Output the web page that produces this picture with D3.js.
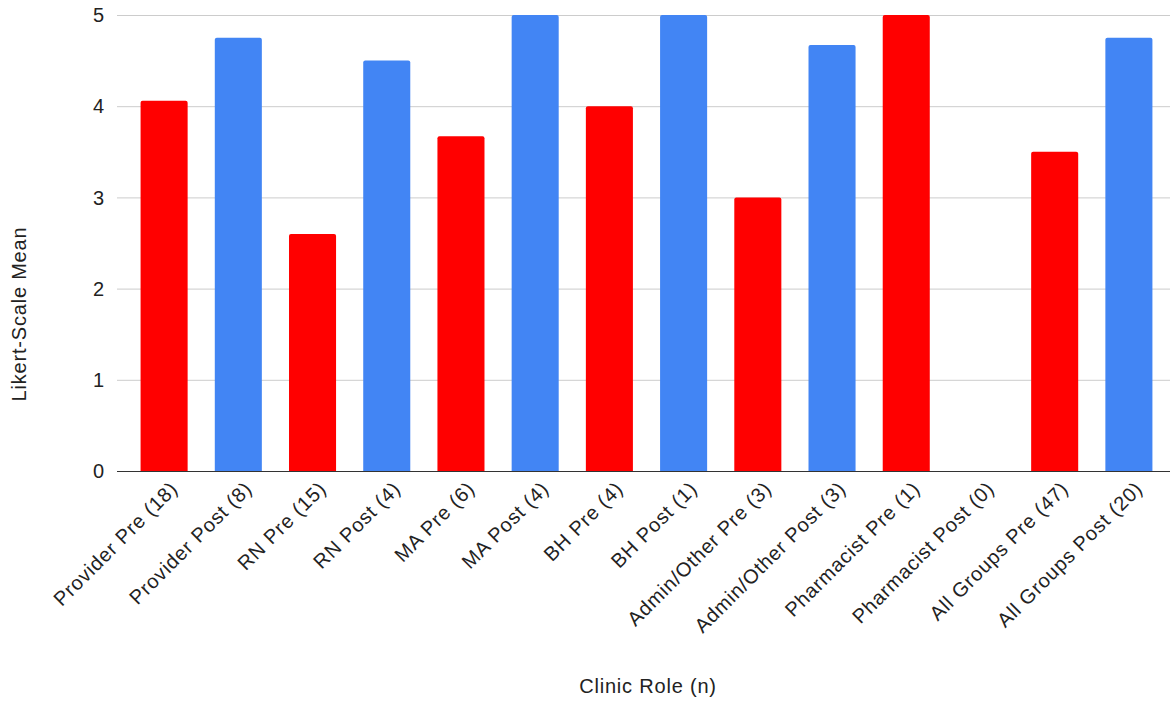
<!DOCTYPE html>
<html>
<head>
<meta charset="utf-8">
<script src="https://cdn.jsdelivr.net/npm/d3@7/dist/d3.min.js"></script>
<style>
  html, body { margin: 0; padding: 0; background: #fff; }
  svg { display: block; font-family: "Liberation Sans", Arial, sans-serif; }
  text { letter-spacing: 0.8px; }
</style>
</head>
<body>
<svg id="chart" width="1170" height="704"></svg>
<script>
// Clinic roles with respondent counts, and their Likert-scale means
const categories = [
  "Provider Pre (18)", "Provider Post (8)", "RN Pre (15)", "RN Post (4)",
  "MA Pre (6)", "MA Post (4)", "BH Pre (4)", "BH Post (1)",
  "Admin/Other Pre (3)", "Admin/Other Post (3)", "Pharmacist Pre (1)",
  "Pharmacist Post (0)", "All Groups Pre (47)", "All Groups Post (20)"
];
const means = [4.06, 4.75, 2.6, 4.5, 3.67, 5, 4, 5, 3, 4.67, 5, 0, 3.5, 4.75];
const phases = ["Pre", "Post", "Pre", "Post", "Pre", "Post", "Pre", "Post",
                "Pre", "Post", "Pre", "Post", "Pre", "Post"];
const yTicks = [0, 1, 2, 3, 4, 5];
const phaseColors = { Pre: "#ff0000", Post: "#4285f4" };

const svg = d3.select("#chart");
const plot = { left: 117, right: 1170, top: 15, bottom: 471 };
const fontSize = 20;

const x = d3.scaleBand()
  .domain(categories)
  .range([127, 1166])
  .paddingInner(0.366)
  .paddingOuter(0.183);

const y = d3.scaleLinear().domain([0, 5]).range([plot.bottom, plot.top]);

// Horizontal gridlines with value labels
const yAxis = svg.append("g").attr("class", "y-axis");
yAxis.selectAll("line").data(yTicks.filter(d => d !== 0)).join("line")
  .attr("x1", plot.left).attr("x2", plot.right)
  .attr("y1", d => y(d) + 0.5).attr("y2", d => y(d) + 0.5)
  .attr("stroke", "#cccccc").attr("stroke-width", 1);
yAxis.selectAll("text").data(yTicks).join("text")
  .attr("x", 105).attr("y", d => y(d))
  .attr("dy", "0.36em")
  .attr("text-anchor", "end")
  .attr("font-size", fontSize).attr("fill", "#222")
  .text(d => d);

// Bars with slightly rounded tops
const rr = 2;
function barPath(d, i) {
  const x0 = x(categories[i]), w = x.bandwidth();
  const y0 = y(d), y1 = y(0);
  const h = y1 - y0;
  if (h <= 0) return "";
  const r = Math.min(rr, h);
  return `M${x0},${y1}V${y0 + r}Q${x0},${y0} ${x0 + r},${y0}` +
         `H${x0 + w - r}Q${x0 + w},${y0} ${x0 + w},${y0 + r}V${y1}Z`;
}
svg.append("g").selectAll("path").data(means).join("path")
  .attr("d", barPath)
  .attr("fill", (d, i) => phaseColors[phases[i]]);

// Baseline
svg.append("line")
  .attr("x1", plot.left).attr("x2", plot.right)
  .attr("y1", y(0) + 0.5).attr("y2", y(0) + 0.5)
  .attr("stroke", "#333").attr("stroke-width", 1.2);

// Rotated category labels
svg.append("g").selectAll("text").data(categories).join("text")
  .attr("transform", d => `translate(${x(d) + x.bandwidth() / 2 + 10},${plot.bottom + 14}) rotate(-45)`)
  .attr("text-anchor", "end")
  .attr("dy", "0.35em")
  .attr("font-size", fontSize).attr("fill", "#222")
  .text(d => d);

// Axis titles
svg.append("text")
  .attr("x", 648).attr("y", 693)
  .attr("text-anchor", "middle")
  .attr("font-size", fontSize).attr("fill", "#222")
  .text("Clinic Role (n)");

svg.append("text")
  .attr("transform", "translate(26,314) rotate(-90)")
  .attr("text-anchor", "middle")
  .attr("font-size", fontSize).attr("fill", "#222")
  .text("Likert-Scale Mean");
</script>
</body>
</html>
